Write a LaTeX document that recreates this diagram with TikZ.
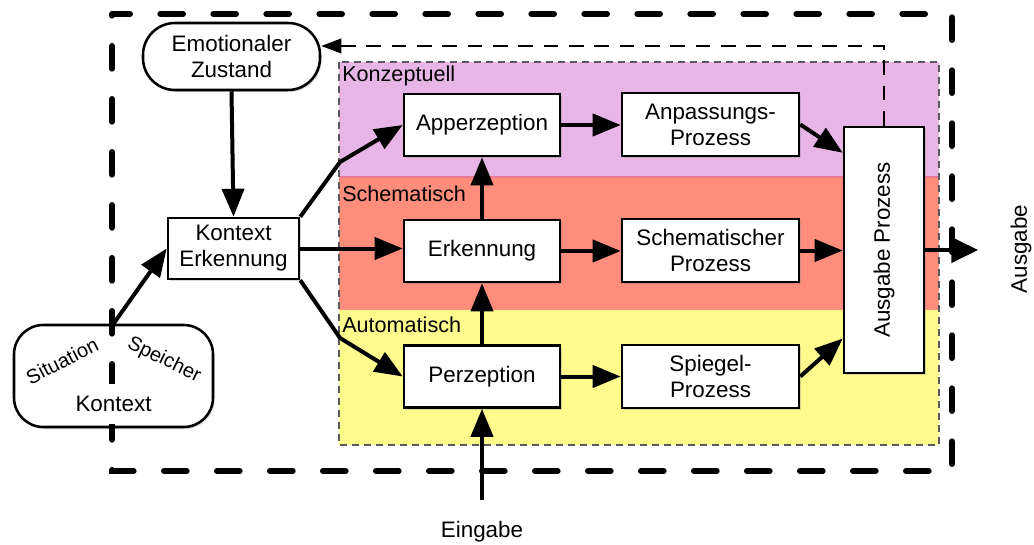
\documentclass[tikz,border=0pt]{standalone}
\usepackage{fontspec}
\setmainfont{Liberation Sans}
\usetikzlibrary{arrows.meta,shadows,calc}
\definecolor{konz}{HTML}{E8B6E6}
\definecolor{schem}{HTML}{FF8D7B}
\definecolor{autom}{HTML}{FFFB8C}
\definecolor{konzline}{HTML}{EC7898}
\begin{document}
\begin{tikzpicture}[x=0.75pt,y=-0.75pt,
  boxfont/.style={font=\fontsize{16.8}{19.5}\selectfont},
  box/.style={draw, line width=1.9pt, fill=white, align=center, boxfont, inner sep=0pt,
    drop shadow={shadow xshift=1.2pt,shadow yshift=-1.5pt,opacity=0.3}},
  midbox/.style={box, minimum width=117pt, minimum height=46.5pt},
  procbox/.style={box, minimum width=132.75pt, minimum height=47.25pt},
  arr/.style={line width=3pt, -{Triangle[length=21pt,width=16.5pt]}},
  bandlabel/.style={anchor=base west, inner sep=0pt, font=\fontsize{16.2}{19}\selectfont},
  outerdash/.style={line width=4.5pt, line cap=round, dash pattern=on 17pt off 22.75pt, dash phase=15.75pt},
  regiondash/.style={line width=0.8pt, gray!70!black, dash pattern=on 5pt off 4pt},
  fbdash/.style={line width=1.3pt, dash pattern=on 11pt off 8pt, -{Triangle[length=15pt,width=11pt]}},
  ctxlabel/.style={fill=white, inner sep=1pt, font=\fontsize{15}{18}\selectfont}
]
\useasboundingbox (0,0) rectangle (1034,545);

% colored region
\fill[konz] (339,62) rectangle (939,177);
\fill[schem] (339,177) rectangle (939,310);
\fill[autom] (339,310) rectangle (939,445);
\draw[konzline, line width=1pt] (339,177) -- (939,177);
\draw[regiondash] (339,62) rectangle (939,445);
\node[bandlabel] (lk) at (342,82) {Konzeptuell};
\node[bandlabel] (ls) at (342,202) {Schematisch};
\node[bandlabel] (la) at (342,332) {Automatisch};

% nodes
\node[box, rounded corners=24pt, minimum width=132.75pt, minimum height=50.25pt] (emo) at (231.5,56.5) {Emotionaler\\Zustand};
\node[box, minimum width=98.25pt, minimum height=45.75pt] (ke) at (233.5,248.5) {Kontext\\Erkennung};
\node[box, rounded corners=22pt, minimum width=149.25pt, minimum height=76.5pt] (ctx) at (113.5,376) {};

\node[midbox] (app) at (482,125) {Apperzeption};
\node[midbox] (erk) at (482,251) {Erkennung};
\node[midbox] (per) at (482,376.5) {Perzeption};
\node[procbox] (anp) at (710.5,124.5) {Anpassungs-\\Prozess};
\node[procbox] (sch) at (710.5,250.5) {Schematischer\\Prozess};
\node[procbox] (spi) at (710.5,376.5) {Spiegel-\\Prozess};
\node[box, minimum width=60pt, minimum height=184.5pt] (aus) at (884,250) {};
\node[rotate=90, boxfont, inner sep=0pt] (auslbl) at (aus.center) {Ausgabe Prozess};

\node[boxfont, inner sep=0pt] (ein) at (482,532) {Eingabe};
\node[boxfont, inner sep=0pt, rotate=90] (ausg) at (1021,249) {Ausgabe};
\coordinate (inp) at (482,500);
\coordinate (out) at (978,250);
\coordinate (fb) at (0,46);

% connectors
\draw[arr] (emo.south) -- (ke.north);
\draw[arr] (ctx.north) -- (ke.west);
\draw[arr] (ke.north east) -- (340,162) -- (app.west);
\draw[arr] (ke.east) -- (erk.west |- ke.east);
\draw[arr] (ke.south east) -- (340,338) -- (per.west);
\draw[arr] (per.north) -- (erk.south);
\draw[arr] (erk.north) -- (app.south);
\draw[arr] (inp) -- (per.south);
\draw[arr] (app.east) -- (anp.west |- app.east);
\draw[arr] (erk.east) -- (sch.west |- erk.east);
\draw[arr] (per.east) -- (spi.west |- per.east);
\draw[arr] (anp.east) -- (aus.113.5);
\draw[arr] (sch.east) -- (aus.west |- sch.east);
\draw[arr] (spi.east) -- (aus.245);
\draw[line width=2.4pt, -{Triangle[length=20pt,width=19pt]}] (aus.east) -- (out);
\draw[fbdash] (aus.north) -- (aus.north |- fb) -- (emo.east |- fb);

% outer dashed boundary
\draw[outerdash] (112,14) -- (112,471) -- (952,471) -- (952,14) -- cycle;

% context labels on top
\node[ctxlabel, rotate=27] (sit) at (62,361) {Situation};
\node[ctxlabel, rotate=-26] (spe) at (164,360) {Speicher};
\node[fill=white, inner sep=0pt, minimum height=30pt, boxfont] (ktx) at (113.5,404) {Kontext};
\end{tikzpicture}
\end{document}
